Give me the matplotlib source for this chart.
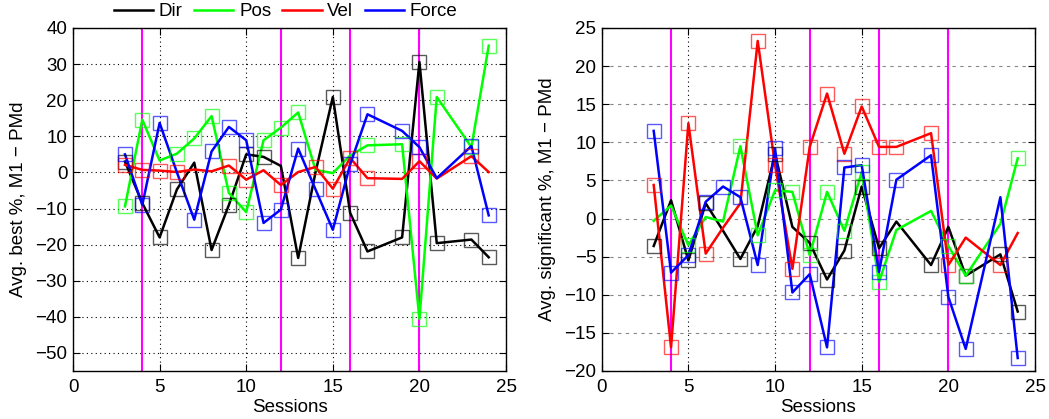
import numpy as np
import matplotlib.pyplot as plt

plt.rcParams['font.family'] = ['Liberation Sans', 'DejaVu Sans']

sessions = [3, 4, 5, 6, 7, 8, 9, 10, 11, 12, 13, 14, 15, 16, 17, 19, 20, 21, 23, 24]
labels = ['Dir', 'Pos', 'Vel', 'Force']
colors = ['#000000', '#00ff00', '#ff0000', '#0000ff']
change_sessions = [4, 12, 16, 20]

# left panel: avg. best %
best_dir   = [3, -8.5, -18, -4.7, 2.7, -21.5, -9, 5, 4.3, 1.8, -23.7, 0, 20.9, -11.2, -21.9, -18, 30.6, -19.6, -18.6, -23.5]
best_pos   = [-9.4, 14.6, 3.3, 5.2, 9.4, 15.6, -5.7, -11, 8.9, 12.4, 16.6, 0.7, -0.2, 4.7, 7.5, 7.8, -40.6, 20.9, 7, 35.1]
best_vel   = [2.1, 0.7, 0.5, 0.1, 0.8, 0.3, 1.9, -2, 0.6, -3.5, 0.1, 1.5, -4.5, 4, -1.6, -1.8, 3.1, -1.7, 4.5, 0.1]
best_force = [5, -9, 13.7, 0, -13.1, 5.8, 12.6, 8.9, -14, -10.3, 6.6, -4.7, -15.9, 2.2, 16.1, 11.5, 7, -1.6, 7.3, -11.9]

# right panel: avg. significant %
sig_dir   = [-3.6, 2.4, -5.5, 2, -1.6, -5.3, -1, 8.5, -1.1, -3.2, -8, -4.2, 4.2, -3.9, -0.4, -6.1, -1.1, -7.5, -4.7, -12.2]
sig_pos   = [-0.3, 1.7, -3.5, 0.2, -0.4, 9.5, -2.2, 3.7, 3.5, -4.8, 3.5, -1.6, 6.1, -8.3, -1.5, 1, -3.6, -7.5, -0.7, 7.9]
sig_vel   = [4.4, -16.9, 12.5, -4.6, -1.2, 2, 23.3, 7, -6.6, 9.4, 16.4, 8.5, 14.7, 9.4, 9.4, 11.2, -6.1, -2.5, -6.1, -1.9]
sig_force = [11.5, -7.1, -4.8, 2.2, 4.2, 2.8, -6.1, 9.2, -9.7, -7.3, -16.9, 6.7, 7, -7, 5.1, 8.3, -10.3, -17.1, 2.8, -18.3]

# sessions that carry a square marker
best_marked = [
    [3, 4, 5, 6, 8, 9, 10, 11, 13, 15, 16, 17, 19, 20, 21, 23, 24],
    [3, 4, 6, 7, 8, 9, 10, 11, 12, 13, 17, 19, 20, 21, 23, 24],
    [3, 4, 5, 6, 9, 10, 12, 14, 15, 16, 17, 20, 23],
    [3, 4, 5, 7, 8, 9, 10, 11, 12, 13, 14, 15, 16, 17, 19, 20, 23, 24],
]
sig_marked = [
    [3, 5, 6, 8, 10, 12, 13, 14, 15, 16, 19, 21, 23, 24],
    [5, 8, 9, 10, 11, 12, 13, 14, 15, 16, 20, 21, 24],
    [3, 4, 5, 6, 9, 10, 11, 12, 13, 14, 15, 16, 17, 19, 20, 23],
    [3, 4, 5, 6, 7, 8, 9, 10, 11, 12, 13, 14, 15, 16, 17, 19, 20, 21, 24],
]

FS = 13.5

fig = plt.figure(figsize=(10.49, 4.19), dpi=100)
ax1 = fig.add_axes([0.0696, 0.1146, 0.4128, 0.8186])
ax2 = fig.add_axes([0.5736, 0.1146, 0.4131, 0.8186])


def draw_panel(ax, series, marked, ylim, yticks, ylabel, ygrid_style):
    for x in change_sessions:
        ax.axvline(x, color='#ff00ff', lw=1.5, zorder=1)
    handles = []
    for vals, mk, col, lab in zip(series, marked, colors, labels):
        h, = ax.plot(sessions, vals, color=col, lw=1.8, label=lab, zorder=3)
        handles.append(h)
        xs = [s for s in sessions if s in mk]
        ys = [v for s, v in zip(sessions, vals) if s in mk]
        ax.plot(xs, ys, ls='none', marker='s', ms=10.5, mfc='none',
                mec=col, mew=1.0, alpha=0.65, zorder=4)
    ax.set_xlim(0, 25)
    ax.set_ylim(*ylim)
    ax.set_xticks(np.arange(0, 26, 5))
    ax.set_yticks(yticks)
    ax.tick_params(direction='in', top=True, right=True, labelsize=FS, length=5, pad=4)
    ax.tick_params(axis='x', pad=6)
    ax.xaxis.grid(True, color='k', ls=(0, (1, 3)), lw=0.8)
    ax.yaxis.grid(True, **ygrid_style)
    ax.set_axisbelow(True)
    for sp in ax.spines.values():
        sp.set_linewidth(1.0)
    ax.set_xlabel('Sessions', fontsize=FS, labelpad=2)
    ax.set_ylabel(ylabel, fontsize=FS, labelpad=6)
    return handles


hs = draw_panel(ax1, [best_dir, best_pos, best_vel, best_force], best_marked,
                (-55, 40), np.arange(-50, 41, 10), 'Avg. best %, M1 − PMd',
                dict(color='k', ls=(0, (1, 3)), lw=0.8))
draw_panel(ax2, [sig_dir, sig_pos, sig_vel, sig_force], sig_marked,
           (-20, 25), np.arange(-20, 26, 5), 'Avg. significant %, M1 − PMd',
           dict(color='#888888', ls=(0, (3, 4)), lw=0.8))

ax1.legend(handles=hs, loc='center', bbox_to_anchor=(0.491, 1.047), ncol=4,
           frameon=False, fontsize=FS, handlelength=2.1, handletextpad=0.3,
           columnspacing=0.6, borderaxespad=0)

fig.savefig('out.png', dpi=100)
